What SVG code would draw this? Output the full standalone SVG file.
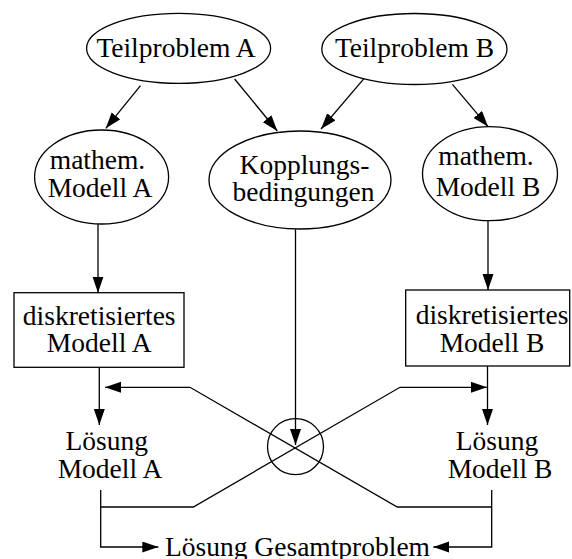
<svg xmlns="http://www.w3.org/2000/svg" width="572" height="559" viewBox="0 0 572 559">
  <style>
    .shape { fill: #ffffff; stroke: #000000; stroke-width: 1.3; }
    .edge { fill: none; stroke: #000000; stroke-width: 1.3; }
    .lbl { font-family: "Liberation Serif", "Times New Roman", serif; font-size: 27.5px; fill: #000000; text-anchor: middle; }
  </style>
  <defs>
    <marker id="arrow" markerUnits="userSpaceOnUse" markerWidth="17" markerHeight="12" refX="16" refY="5.5" orient="auto">
      <path d="M0,0 L16,5.5 L0,11 z" fill="#000000"/>
    </marker>
  </defs>

  <rect width="572" height="559" fill="#ffffff"/>

  <!-- connectors -->
  <g id="connectors">
    <line class="edge" x1="140.5" y1="85.7" x2="105.8" y2="128.3" marker-end="url(#arrow)"/>
    <line class="edge" x1="234.6" y1="79" x2="277.3" y2="131" marker-end="url(#arrow)"/>
    <line class="edge" x1="364.8" y1="77.7" x2="321" y2="129" marker-end="url(#arrow)"/>
    <line class="edge" x1="452.4" y1="84.3" x2="488.1" y2="126.7" marker-end="url(#arrow)"/>
    <line class="edge" x1="98" y1="224.3" x2="98" y2="292.7" marker-end="url(#arrow)"/>
    <line class="edge" x1="488" y1="220.7" x2="488" y2="290" marker-end="url(#arrow)"/>
    <line class="edge" x1="295.5" y1="229.3" x2="295.5" y2="445" marker-end="url(#arrow)"/>
    <line class="edge" x1="99.3" y1="367.3" x2="99.3" y2="425" marker-end="url(#arrow)"/>
    <line class="edge" x1="487.5" y1="366" x2="487.5" y2="425" marker-end="url(#arrow)"/>
    <polyline class="edge" points="492,507 397.3,507 190,387.3 105,387.3" marker-end="url(#arrow)"/>
    <polyline class="edge" points="100.7,507 193.3,507 400,387.3 487,387.3" marker-end="url(#arrow)"/>
    <polyline class="edge" points="100.7,490 100.7,547 158.3,547" marker-end="url(#arrow)"/>
    <polyline class="edge" points="491.7,490 491.7,547 433.3,547" marker-end="url(#arrow)"/>
  </g>

  <!-- nodes -->
  <g id="teilproblem-a">
    <ellipse class="shape" cx="178.6" cy="48.3" rx="92" ry="35"/>
    <text class="lbl" x="176" y="57">Teilproblem A</text>
  </g>
  <g id="teilproblem-b">
    <ellipse class="shape" cx="414.4" cy="49" rx="92.6" ry="35.5"/>
    <text class="lbl" x="414.5" y="57">Teilproblem B</text>
  </g>
  <g id="modell-a">
    <ellipse class="shape" cx="101.6" cy="177" rx="67" ry="47"/>
    <text class="lbl" x="97.5" y="169">mathem.</text>
    <text class="lbl" x="100" y="197">Modell A</text>
  </g>
  <g id="kopplung">
    <ellipse class="shape" cx="300" cy="180" rx="91" ry="49"/>
    <text class="lbl" x="304.5" y="173.5">Kopplungs-</text>
    <text class="lbl" x="303.5" y="201">bedingungen</text>
  </g>
  <g id="modell-b">
    <ellipse class="shape" cx="490" cy="173.7" rx="67.5" ry="47"/>
    <text class="lbl" x="486" y="164.5">mathem.</text>
    <text class="lbl" x="488" y="196">Modell B</text>
  </g>
  <g id="diskret-a">
    <rect class="shape" x="14" y="292.7" width="170" height="74.6"/>
    <text class="lbl" x="99.2" y="325">diskretisiertes</text>
    <text class="lbl" x="99.2" y="352">Modell A</text>
  </g>
  <g id="diskret-b">
    <rect class="shape" x="405.7" y="290" width="164" height="76"/>
    <text class="lbl" x="492" y="323.5">diskretisiertes</text>
    <text class="lbl" x="492" y="352">Modell B</text>
  </g>
  <g id="kopplungspunkt">
    <circle class="edge" cx="295.5" cy="446.7" r="28"/>
  </g>
  <g id="loesung-a">
    <text class="lbl" x="106.7" y="450">Lösung</text>
    <text class="lbl" x="110" y="478.3">Modell A</text>
  </g>
  <g id="loesung-b">
    <text class="lbl" x="497" y="450">Lösung</text>
    <text class="lbl" x="500" y="478.3">Modell B</text>
  </g>
  <g id="gesamt">
    <text class="lbl" x="297.5" y="556">Lösung Gesamtproblem</text>
  </g>
</svg>
